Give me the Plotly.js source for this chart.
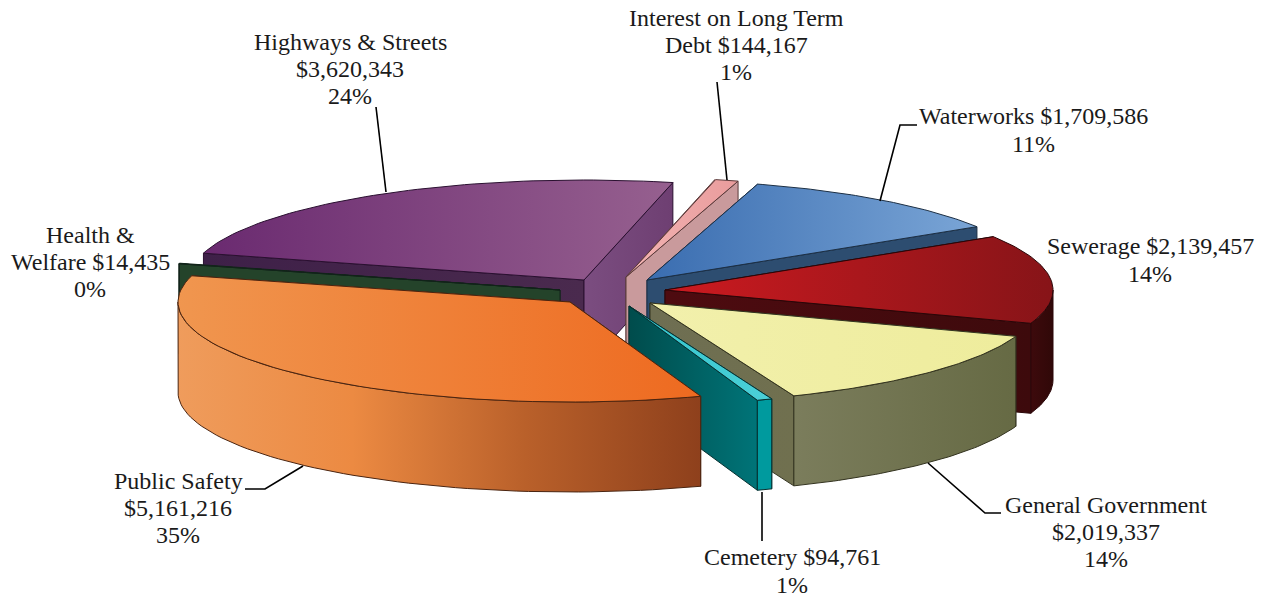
<!DOCTYPE html>
<html><head><meta charset="utf-8">
<script src="https://cdn.plot.ly/plotly-3.0.1.min.js"></script>
<style>html,body{margin:0;padding:0;background:#fff}#c{width:1268px;height:597px}</style>
</head><body><div id="c"></div>
<script>
// ---- data ----
const categories = ["Interest on Long Term Debt","Waterworks","Sewerage","General Government","Cemetery","Public Safety","Health & Welfare","Highways & Streets"];
const amounts = [144167,1709586,2139457,2019337,94761,5161216,14435,3620343];
const percentLabels = ["1%","11%","14%","14%","1%","35%","0%","24%"];
const labelLines = [
 ["Interest on Long Term","Debt $144,167","1%"],
 ["Waterworks $1,709,586","11%"],
 ["Sewerage $2,139,457","14%"],
 ["General Government","$2,019,337","14%"],
 ["Cemetery $94,761","1%"],
 ["Public Safety","$5,161,216","35%"],
 ["Health &","Welfare $14,435","0%"],
 ["Highways & Streets","$3,620,343","24%"]
];
// ---- drawing style ----
const W=1268,H=597;
const pie={cx:620,cy:292,ry:100,depth:90,startDeg:13};
const radiusX=[395,390,388,388,385,392,395,395];
const explodeX=[6,27,45,30,9,-50,-60,-36];
const explodeY=[-15,-12,-2,11,14,10,-2,-12];
const drawOrder=[7,0,1,2,6,3,4,5];
const lineStep=27.3;
const looks=[
 {top:["#f2b3b3","#e99c9c"],radA:["#c99a9c","#c99a9c"],radB:["#c99a9c","#c99a9c"],arc:["#c99a9c","#c99a9c"],line:"#5a3a3a"},
 {top:["#3a6db0","#7aa5d6"],radA:["#2b4a6b","#2b4a6b"],radB:["#2d4d70","#2d4d70"],arc:["#2d4d70","#2d4d70"],line:"#1c2f44"},
 {top:["#cc1a20","#871418"],radA:["#4a0a10","#4a0a10"],radB:["#4e0b10","#3d0a0c"],arc:["#3d0a0c","#300808"],line:"#2a0608"},
 {top:["#f2f0ac","#eeec9c"],radA:["#75755a","#6d6d50"],radB:["#6e6e52","#70704f"],arc:["#7b7d5c","#666a44"],line:"#33331f"},
 {top:["#32c4cc","#4cd0d8"],radA:["#004c4c","#006e70"],radB:["#004c4c","#007478"],arc:["#009a9e","#009a9e"],line:"#063030"},
 {top:["#f0964f","#ee6a20"],radA:["#8c3f1c","#8c3f1c"],radB:["#8c3f1c","#8c3f1c"],arc:["#ef9c5c","#ec8a42","#b9602a","#8e401c"],line:"#4a2410"},
 {top:["#25452b","#25452b"],radA:["#24432a","#24432a"],radB:["#24432a","#24432a"],arc:["#24432a","#24432a"],line:"#12241a"},
 {top:["#6a2a70","#96608f"],radA:["#3e2048","#4a2a4e"],radB:["#7b4d80","#6e3f72"],arc:["#3e2048","#3e2048"],line:"#2a1030"}
];
const labelPos=[[736,45],[1033,130],[1150,260],[1106,532],[792,571],[178,508],[90,262],[350,69]];
const leaders=[
 [[717,82],[727,180]],
 [[917,125],[900,125],[880,201]],
 [[245,489],[265,489],[303,466]],
 [[1001,513],[985,513],[928,463]],
 [[762,492],[762,541]],
 [[376,107],[386,192]]
];
// ---- geometry from values ----
const total=amounts.reduce((a,b)=>a+b,0);
const rad=d=>d*Math.PI/180;
function ramp(cols){return cols.map((c,i)=>[i/(cols.length-1),c]);}
function poly(xs,ys,cols,line){
 return {type:"scatter",mode:"lines",x:xs.concat(xs[0]),y:ys.concat(ys[0]),fill:"toself",
  fillgradient:{type:"horizontal",colorscale:ramp(cols)},
  line:{color:line,width:1},hoverinfo:"skip",showlegend:false};
}
function pt(k,ax,ay,deg){return [ax+radiusX[k]*Math.sin(rad(deg)),ay-pie.ry*Math.cos(rad(deg))];}
let cum=pie.startDeg;
const slices=amounts.map((v,i)=>{const s=cum;cum+=v/total*360;return {i,s,e:cum};});
const traces=[];
drawOrder.forEach(k=>{
 const {s,e}=slices[k],L=looks[k],ax=pie.cx+explodeX[k],ay=pie.cy+explodeY[k],d=pie.depth;
 const pS=pt(k,ax,ay,s),pE=pt(k,ax,ay,e);
 // radial cut walls: start side first, end side over it
 traces.push(poly([ax,pS[0],pS[0],ax],[ay,pS[1],pS[1]+d,ay+d],L.radA,L.line));
 traces.push(poly([ax,pE[0],pE[0],ax],[ay,pE[1],pE[1]+d,ay+d],L.radB,L.line));
 // outer rim, only the part facing the viewer
 const a0=Math.max(s,90),a1=Math.min(e,270);
 if(a1>a0){
  const xs=[],ys=[],bx=[],by=[];
  for(let a=a0;a<=a1+1e-6;a+=(a1-a0)/60){const p=pt(k,ax,ay,a);xs.push(p[0]);ys.push(p[1]);bx.unshift(p[0]);by.unshift(p[1]+d);}
  traces.push(poly(xs.concat(bx),ys.concat(by),L.arc,L.line));
 }
 // top face
 const tx=[ax],ty=[ay];
 for(let a=s;a<=e+1e-6;a+=Math.max((e-s)/60,0.02)){const p=pt(k,ax,ay,a);tx.push(p[0]);ty.push(p[1]);}
 traces.push(poly(tx,ty,L.top,L.line));
});
// leader lines
leaders.forEach(l=>traces.push({type:"scatter",mode:"lines",x:l.map(p=>p[0]),y:l.map(p=>p[1]),
 line:{color:"#000",width:1.6},hoverinfo:"skip",showlegend:false}));
const annotations=[];
labelLines.forEach((ls,i)=>ls.forEach((t,j)=>annotations.push({
 x:labelPos[i][0],y:labelPos[i][1]+(j-(ls.length-1)/2)*lineStep,xref:"x",yref:"y",
 text:t,showarrow:false,xanchor:"center",yanchor:"middle",align:"center",
 font:{family:"Liberation Serif",size:24,color:"#1a1a1a"}})));
Plotly.newPlot("c",traces,{
 width:W,height:H,margin:{l:0,r:0,t:0,b:0},paper_bgcolor:"#fff",plot_bgcolor:"#fff",showlegend:false,
 xaxis:{range:[0,W],visible:false,fixedrange:true},
 yaxis:{range:[H,0],visible:false,fixedrange:true},
 annotations
},{displayModeBar:false,staticPlot:true});
</script></body></html>
